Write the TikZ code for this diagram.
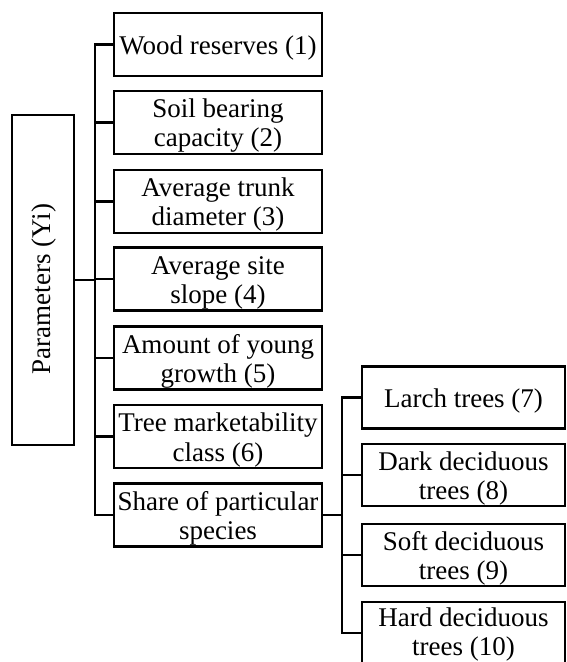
\documentclass[tikz,border=0pt]{standalone}
\usepackage{fontspec}
\setmainfont{Liberation Serif}
\begin{document}
\begin{tikzpicture}[x=1pt,y=-1pt,
  lab/.style={align=center, inner sep=0pt, yshift=-3.5pt,
    font=\fontsize{27}{29}\selectfont},
  box/.style={draw, line width=2.8pt, inner sep=0pt},
  mainbox/.style={box, minimum width=208pt, minimum height=63pt,
    label={[lab]center:#1}},
  subbox/.style={box, minimum width=203pt, minimum height=62pt,
    label={[lab]center:#1}},
  conn/.style={line width=2.8pt, line cap=rect}]
\useasboundingbox (0,0) rectangle (566,662);
\node[box, minimum width=62pt, minimum height=330pt] (p) at (43,280) {};
\node[rotate=90, font=\fontsize{27}{30}\selectfont, inner sep=0pt] (pt) at (44,289) {Parameters (Yi)};
\node[mainbox={Wood reserves (1)}] (b1) at (218,44.5) {};
\node[mainbox={Soil bearing\\capacity (2)}] (b2) at (218,122.5) {};
\node[mainbox={Average trunk\\diameter (3)}] (b3) at (218,201.5) {};
\node[mainbox={Average site\\slope (4)}] (b4) at (218,279) {};
\node[mainbox={Amount of young\\growth (5)}] (b5) at (218,358) {};
\node[mainbox={Tree marketability\\class (6)}] (b6) at (218,436.5) {};
\node[mainbox={Share of particular\\species}] (b7) at (218,515) {};
\node[subbox={Larch trees (7)}] (s1) at (463.5,397.5) {};
\node[subbox={Dark deciduous\\trees (8)}] (s2) at (463.5,475) {};
\node[subbox={Soft deciduous\\trees (9)}] (s3) at (463.5,555) {};
\node[box, minimum width=203pt, minimum height=62pt,
  label={[lab, yshift=2.5pt]center:{Hard deciduous\\trees (10)}}] (s4) at (463.5,633) {};
\coordinate (t) at (95,0);
\coordinate (u) at (342,0);
\draw[conn] (p.east) -- (p.east -| t);
\draw[conn] (b1.west) -- (b1.west -| t) -- (b7.west -| t) -- (b7.west);
\foreach \b in {b2,b3,b4,b5,b6} \draw[conn] (\b.west) -- (\b.west -| t);
\draw[conn] (b7.east) -- (b7.east -| u);
\draw[conn] (s1.west) -- (s1.west -| u) -- (s4.west -| u) -- (s4.west);
\foreach \b in {s2,s3} \draw[conn] (\b.west) -- (\b.west -| u);
\end{tikzpicture}
\end{document}
